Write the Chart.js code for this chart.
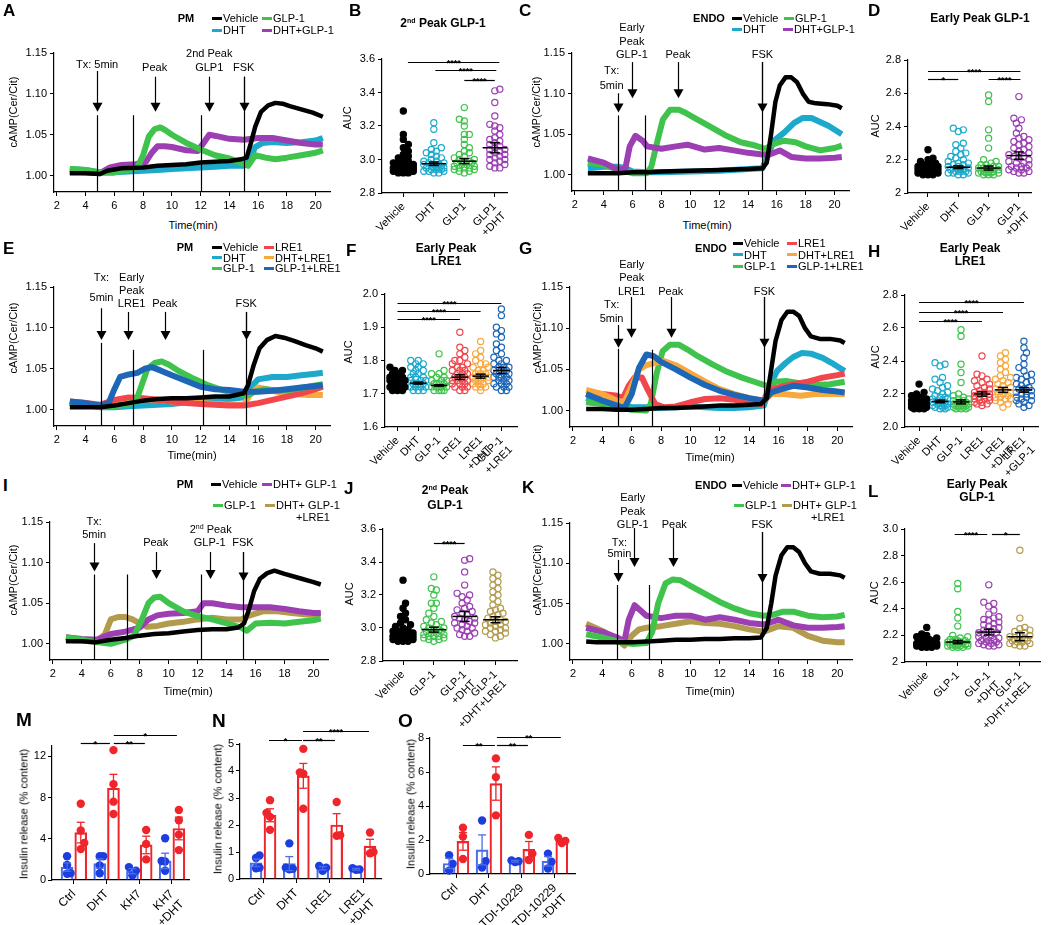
<!DOCTYPE html>
<html><head><meta charset="utf-8">
<script src="https://cdn.jsdelivr.net/npm/chart.js@4.4.1/dist/chart.umd.min.js"></script>
<style>
html,body{margin:0;padding:0;background:#fff;}
#fig{position:relative;width:1050px;height:925px;overflow:hidden;background:#fff;font-family:'Liberation Sans',Arial,Helvetica,sans-serif;color:#000;}
#fig canvas{position:absolute;}
.t{position:absolute;white-space:nowrap;line-height:1;}
.sp{font-size:7px;vertical-align:4px;}
</style></head><body><div id="fig"></div>
<script>
// ================= DATA =================
// time-course traces: [time (min), cAMP(Cer/Cit)]
const A_veh = [[2.9,1.003],[4,1.003],[5,1.002],[5.5,1.006],[6.5,1.009],[8,1.01],[9,1.012],[10,1.013],[11,1.014],[12,1.016],[13,1.017],[14,1.018],[14.8,1.02],[15.2,1.022],[15.5,1.04],[15.8,1.06],[16.2,1.078],[16.7,1.086],[17.2,1.089],[17.7,1.088],[18.2,1.085],[19,1.081],[19.8,1.077],[20.5,1.072]];
const A_dht = [[2.9,1.008],[4,1.007],[5,1.004],[6,1.004],[7,1.005],[8,1.006],[9,1.007],[10,1.008],[11,1.009],[12,1.01],[13,1.011],[14,1.012],[15,1.012],[15.4,1.02],[15.8,1.035],[16.3,1.04],[17,1.041],[18,1.04],[19,1.041],[20,1.043],[20.5,1.046]];
const A_glp = [[2.9,1.008],[4,1.007],[5,1.004],[6,1.004],[7,1.007],[7.6,1.01],[8,1.025],[8.4,1.048],[8.8,1.057],[9.2,1.059],[9.6,1.055],[10,1.05],[11,1.04],[12,1.032],[13,1.025],[14,1.021],[14.8,1.016],[15.3,1.012],[15.8,1.025],[16.5,1.022],[17.2,1.02],[18,1.022],[19,1.025],[20,1.028],[20.5,1.031]];
const A_dg = [[2.9,1.005],[4,1.004],[5,1.003],[5.7,1.01],[6.5,1.013],[7.5,1.014],[8.2,1.017],[8.6,1.028],[9,1.036],[9.5,1.036],[10,1.035],[11,1.031],[11.8,1.03],[12.2,1.04],[12.6,1.05],[13.2,1.048],[14,1.045],[15,1.044],[16,1.046],[17,1.046],[18,1.043],[19,1.04],[20,1.038],[20.5,1.038]];

const C_veh = [[2.9,1.002],[4,1.002],[5,1.002],[6,1.003],[7,1.003],[8,1.004],[10,1.005],[12,1.006],[14,1.007],[15,1.008],[15.3,1.015],[15.6,1.05],[15.9,1.09],[16.2,1.11],[16.6,1.12],[17,1.12],[17.4,1.114],[17.8,1.1],[18.2,1.09],[18.7,1.088],[19.5,1.087],[20.2,1.085],[20.5,1.082]];
const C_dht = [[2.9,1.008],[4,1.01],[5,1.01],[5.5,1.008],[6,1.004],[7,1.003],[8,1.003],[10,1.004],[12,1.005],[14,1.007],[15,1.008],[15.4,1.025],[15.8,1.042],[16.5,1.052],[17.2,1.064],[17.8,1.07],[18.4,1.07],[19,1.065],[19.6,1.06],[20.5,1.05]];
const C_glp = [[2.9,1.015],[4,1.012],[5,1.006],[6,1.002],[7,1.002],[7.3,1.01],[7.7,1.04],[8.1,1.068],[8.6,1.08],[9.2,1.08],[9.7,1.076],[10.5,1.068],[11.5,1.058],[12.5,1.048],[13.5,1.04],[14.5,1.036],[15.2,1.032],[15.8,1.038],[16.5,1.042],[17.3,1.04],[18,1.035],[19,1.03],[20,1.033],[20.5,1.036]];
const C_dg = [[2.9,1.02],[4,1.015],[5,1.006],[5.5,1.008],[5.8,1.035],[6.2,1.048],[6.7,1.042],[7,1.035],[8,1.032],[9,1.035],[9.8,1.037],[11,1.031],[12,1.033],[13,1.03],[14,1.027],[15,1.025],[15.5,1.025],[16.2,1.03],[17,1.022],[18,1.02],[19,1.02],[20,1.021],[20.5,1.022]];

const E_veh = [[2.9,1.003],[4,1.003],[5,1.003],[6,1.005],[7,1.008],[8,1.011],[9,1.013],[10,1.014],[11,1.014],[12,1.015],[13,1.016],[14,1.016],[15,1.02],[15.3,1.03],[15.7,1.055],[16.1,1.075],[16.6,1.085],[17.2,1.09],[17.8,1.088],[18.5,1.084],[19.3,1.079],[20,1.075],[20.5,1.071]];
const E_dht = [[2.9,1.009],[4,1.007],[5,1.003],[6,1.003],[7,1.004],[8,1.005],[9,1.006],[10,1.007],[11,1.009],[12,1.01],[13,1.012],[14,1.013],[15,1.015],[15.5,1.028],[16,1.037],[17,1.04],[18,1.04],[19,1.042],[20,1.044],[20.5,1.045]];
const E_glp = [[2.9,1.008],[4,1.006],[5,1.004],[6,1.004],[7,1.007],[7.5,1.01],[7.9,1.03],[8.3,1.05],[8.8,1.057],[9.3,1.059],[9.8,1.055],[10.5,1.047],[11.5,1.038],[12.5,1.03],[13.5,1.024],[14.5,1.02],[15.2,1.017],[15.8,1.022],[16.5,1.025],[17.5,1.023],[18.5,1.025],[19.5,1.028],[20.5,1.031]];
const E_lre = [[2.9,1.01],[4,1.008],[5,1.006],[6,1.012],[7,1.015],[8,1.014],[9,1.012],[10,1.01],[11,1.008],[12,1.007],[13,1.006],[14,1.005],[15,1.005],[16,1.008],[17,1.012],[18,1.016],[19,1.02],[20,1.025],[20.5,1.028]];
const E_dl = [[2.9,1.008],[4,1.006],[5,1.003],[6,1.008],[7,1.011],[8,1.013],[9,1.012],[10,1.01],[11,1.009],[12,1.008],[13,1.007],[14,1.006],[15,1.006],[15.5,1.02],[16,1.027],[16.6,1.025],[17.5,1.021],[18.5,1.019],[19.5,1.018],[20.5,1.018]];
const E_gl = [[2.9,1.01],[4,1.008],[5,1.005],[5.6,1.008],[6,1.025],[6.4,1.04],[7,1.043],[7.6,1.045],[8.1,1.05],[8.6,1.052],[9.2,1.048],[10,1.042],[11,1.035],[12,1.028],[13,1.025],[14,1.024],[15,1.022],[16,1.022],[17,1.023],[18,1.025],[19,1.027],[20,1.029],[20.5,1.03]];

const G_veh = [[2.9,1.002],[4,1.002],[5,1.001],[6,1.001],[7,1.002],[8,1.003],[9,1.003],[10,1.004],[11,1.005],[12,1.006],[13,1.006],[14,1.007],[14.8,1.008],[15.2,1.015],[15.5,1.05],[15.8,1.085],[16.2,1.11],[16.6,1.12],[17,1.12],[17.4,1.115],[17.8,1.1],[18.2,1.09],[18.8,1.087],[19.5,1.087],[20.2,1.085],[20.5,1.082]];
const G_dht = [[2.9,1.015],[4,1.01],[5,1.008],[5.5,1.006],[6,1.004],[7,1.004],[8,1.003],[9,1.004],[10,1.005],[11,1.004],[12,1.003],[13,1.003],[14,1.004],[15,1.006],[15.4,1.03],[15.9,1.048],[16.5,1.058],[17,1.065],[17.6,1.07],[18.2,1.069],[19,1.064],[19.6,1.058],[20.5,1.048]];
const G_glp = [[2.9,1.01],[4,1.008],[5,1.005],[6,1.001],[7,1.0],[7.3,1.008],[7.7,1.045],[8.1,1.072],[8.6,1.08],[9.2,1.08],[9.8,1.074],[10.5,1.066],[11.5,1.056],[12.5,1.047],[13.5,1.04],[14.5,1.034],[15.2,1.03],[15.8,1.035],[16.5,1.036],[17.5,1.033],[18.5,1.031],[19.5,1.032],[20.5,1.035]];
const G_lre = [[2.9,1.022],[4,1.02],[5,1.018],[5.4,1.015],[5.8,1.03],[6.2,1.04],[6.7,1.04],[7.1,1.025],[7.6,1.008],[8.2,1.004],[9,1.005],[10,1.01],[11,1.014],[12,1.015],[13,1.013],[14,1.01],[14.9,1.008],[15.3,1.025],[16,1.028],[17,1.032],[18,1.035],[19,1.04],[20,1.043],[20.5,1.045]];
const G_dl = [[2.9,1.025],[4,1.02],[5,1.012],[5.5,1.01],[6,1.03],[6.5,1.05],[7,1.055],[7.6,1.058],[8.2,1.06],[9,1.055],[10,1.045],[11,1.035],[12,1.026],[13,1.02],[14,1.015],[15,1.012],[15.5,1.02],[16.3,1.02],[17.5,1.018],[18.5,1.02],[19.5,1.02],[20.5,1.02]];
const G_gl = [[2.9,1.02],[4,1.012],[5,1.006],[5.5,1.003],[6,1.02],[6.5,1.052],[7,1.068],[7.5,1.066],[8,1.059],[9,1.05],[10,1.04],[11,1.031],[12,1.024],[13,1.019],[14,1.015],[15,1.012],[15.5,1.022],[16.2,1.026],[17,1.03],[18,1.028],[19,1.025],[20,1.023],[20.5,1.022]];

const I_veh = [[2.9,1.003],[4,1.003],[5,1.002],[6,1.005],[7,1.007],[8,1.01],[9,1.012],[10,1.013],[11,1.015],[12,1.017],[13,1.018],[14,1.018],[14.8,1.02],[15.2,1.025],[15.5,1.04],[15.9,1.065],[16.3,1.08],[16.8,1.087],[17.3,1.09],[18,1.086],[19,1.081],[20,1.076],[20.5,1.073]];
const I_glp = [[2.9,1.008],[4,1.005],[5,1.002],[6,1.0],[7,1.005],[7.6,1.01],[8.1,1.028],[8.6,1.05],[9,1.057],[9.4,1.058],[10,1.05],[11,1.04],[12,1.034],[13,1.03],[14,1.025],[15,1.02],[15.4,1.016],[16,1.025],[17,1.026],[18,1.025],[19,1.027],[20,1.029],[20.5,1.031]];
const I_dg = [[2.9,1.008],[4,1.006],[5,1.005],[6,1.012],[7,1.015],[8,1.02],[8.6,1.03],[9.2,1.035],[10,1.037],[11,1.038],[12,1.04],[12.4,1.05],[13,1.05],[14,1.047],[15,1.045],[16,1.045],[17,1.045],[18,1.043],[19,1.04],[20,1.038],[20.5,1.038]];
const I_dgl = [[2.9,1.005],[4,1.004],[5,1.002],[5.6,1.012],[6,1.03],[6.5,1.033],[7,1.033],[7.5,1.03],[8,1.025],[8.5,1.021],[9.2,1.022],[10,1.025],[11,1.027],[12,1.03],[13,1.032],[14,1.03],[15,1.03],[15.6,1.035],[16.5,1.04],[17.5,1.04],[18.5,1.038],[19.5,1.036],[20.5,1.035]];

const K_veh = [[2.9,1.003],[3.6,1.002],[6,1.002],[7,1.003],[8,1.004],[9,1.005],[10,1.005],[11,1.006],[12,1.006],[13,1.007],[14,1.007],[14.8,1.008],[15.2,1.02],[15.5,1.05],[15.8,1.085],[16.2,1.11],[16.6,1.12],[17,1.12],[17.4,1.114],[17.8,1.1],[18.2,1.09],[18.8,1.087],[19.5,1.087],[20.2,1.085],[20.5,1.082]];
const K_glp = [[2.9,1.012],[4,1.008],[5,1.003],[6,1.0],[7,1.001],[7.4,1.015],[7.8,1.05],[8.3,1.075],[8.8,1.08],[9.3,1.079],[10,1.072],[11,1.062],[12,1.052],[13,1.044],[14,1.038],[15,1.035],[15.6,1.036],[16.3,1.04],[17,1.04],[18,1.035],[19,1.033],[20,1.034],[20.5,1.036]];
const K_dg = [[2.9,1.02],[4,1.015],[5,1.008],[5.5,1.003],[5.8,1.03],[6.2,1.048],[6.7,1.04],[7,1.035],[8,1.032],[9,1.035],[10,1.035],[11,1.03],[12,1.033],[13,1.03],[14,1.026],[15,1.024],[16,1.03],[17,1.023],[18,1.02],[19,1.02],[20,1.021],[20.5,1.022]];
const K_dgl = [[2.9,1.025],[4,1.016],[5,1.006],[5.5,0.998],[6,1.01],[6.5,1.018],[7,1.02],[8,1.022],[9,1.025],[10,1.028],[11,1.026],[12,1.025],[13,1.022],[14,1.018],[15,1.015],[16,1.022],[17,1.02],[18,1.01],[19,1.004],[20,1.002],[20.5,1.002]];

const TS_XT = [2,4,6,8,10,12,14,16,18,20];
const TS_YT = [1.00,1.05,1.10,1.15];

// AUC dot plots
const B_cats = ['Vehicle','DHT','GLP1','GLP1\n+DHT'];
const B_veh = [2.92,2.92,2.92,2.93,2.93,2.93,2.93,2.93,2.94,2.94,2.94,2.94,2.94,2.95,2.95,2.95,2.95,2.96,2.96,2.96,2.97,2.97,2.98,2.98,2.99,3.00,3.01,3.02,3.03,3.05,3.07,3.09,3.12,3.15,3.29];
const B_dht = [2.92,2.92,2.93,2.93,2.93,2.94,2.94,2.94,2.95,2.95,2.95,2.95,2.96,2.96,2.96,2.97,2.97,2.97,2.98,2.98,2.99,2.99,3.00,3.01,3.02,3.03,3.04,3.05,3.06,3.07,3.10,3.18,3.22];
const B_glp = [2.92,2.93,2.93,2.94,2.94,2.95,2.95,2.95,2.96,2.96,2.97,2.97,2.98,2.98,2.99,2.99,3.00,3.00,3.01,3.02,3.03,3.04,3.05,3.07,3.09,3.12,3.15,3.15,3.20,3.23,3.24,3.31];
const B_dg = [2.95,2.95,2.96,2.97,2.98,2.99,3.00,3.00,3.01,3.02,3.03,3.03,3.04,3.05,3.06,3.06,3.07,3.08,3.09,3.10,3.11,3.12,3.13,3.15,3.17,3.19,3.20,3.21,3.26,3.34,3.41,3.42];
const B_mean = [2.97,2.975,2.99,3.07];
const B_sem = [0.004,0.01,0.015,0.03];
const B_sig = [[0.15,3.15,3.582,'****'],[1.05,3.05,3.532,'****'],[2.0,3.0,3.476,'****']];
const B_yt = [2.8,3.0,3.2,3.4,3.6];

const D_veh = [2.11,2.11,2.11,2.12,2.12,2.12,2.12,2.13,2.13,2.13,2.13,2.13,2.14,2.14,2.14,2.14,2.15,2.15,2.15,2.16,2.16,2.17,2.17,2.18,2.19,2.20,2.21,2.26];
const D_dht = [2.11,2.11,2.12,2.12,2.12,2.13,2.13,2.13,2.14,2.14,2.14,2.15,2.15,2.15,2.16,2.16,2.17,2.17,2.18,2.18,2.19,2.20,2.21,2.22,2.23,2.24,2.25,2.27,2.29,2.30,2.37,2.38,2.39];
const D_glp = [2.11,2.11,2.11,2.12,2.12,2.12,2.12,2.13,2.13,2.13,2.13,2.14,2.14,2.14,2.15,2.15,2.15,2.16,2.16,2.17,2.17,2.18,2.19,2.20,2.27,2.33,2.38,2.55,2.59];
const D_dg = [2.12,2.12,2.13,2.13,2.14,2.14,2.15,2.15,2.16,2.16,2.17,2.18,2.18,2.19,2.20,2.21,2.22,2.22,2.23,2.24,2.25,2.26,2.27,2.28,2.29,2.30,2.31,2.32,2.33,2.34,2.36,2.39,2.42,2.44,2.45,2.58];
const D_mean = [2.135,2.155,2.15,2.225];
const D_sem = [0.004,0.008,0.012,0.022];
const D_sig = [[0,1,2.685,'*'],[0,3.05,2.736,'****'],[2.0,3.05,2.685,'****']];
const D_yt = [2.0,2.2,2.4,2.6,2.8];
const D_yl = ['2','2.2','2.4','2.6','2.8'];

const F_cats = ['Vehicle','DHT','GLP-1','LRE1','LRE1\n+DHT','GLP-1\n+LRE1'];
const F_veh = [1.71,1.71,1.71,1.72,1.72,1.72,1.72,1.72,1.72,1.73,1.73,1.73,1.73,1.73,1.74,1.74,1.74,1.74,1.75,1.75,1.75,1.76,1.76,1.77,1.77,1.78];
const F_dht = [1.71,1.71,1.71,1.72,1.72,1.72,1.72,1.73,1.73,1.73,1.73,1.74,1.74,1.74,1.75,1.75,1.75,1.76,1.76,1.77,1.77,1.78,1.78,1.79,1.79,1.80,1.80];
const F_glp = [1.71,1.71,1.71,1.71,1.72,1.72,1.72,1.72,1.72,1.73,1.73,1.73,1.73,1.74,1.74,1.74,1.75,1.75,1.76,1.76,1.77,1.82];
const F_lre = [1.71,1.71,1.72,1.72,1.72,1.73,1.73,1.73,1.74,1.74,1.74,1.74,1.75,1.75,1.75,1.76,1.76,1.76,1.77,1.77,1.77,1.78,1.78,1.79,1.79,1.80,1.80,1.81,1.82,1.83,1.84,1.885];
const F_dl = [1.71,1.72,1.72,1.72,1.73,1.73,1.73,1.74,1.74,1.74,1.74,1.75,1.75,1.75,1.75,1.76,1.76,1.76,1.77,1.77,1.78,1.78,1.79,1.79,1.80,1.81,1.82,1.83,1.857];
const F_gl = [1.71,1.71,1.72,1.72,1.72,1.73,1.73,1.73,1.74,1.74,1.74,1.75,1.75,1.75,1.75,1.76,1.76,1.76,1.77,1.77,1.77,1.78,1.78,1.78,1.79,1.79,1.80,1.80,1.81,1.82,1.83,1.84,1.85,1.87,1.88,1.89,1.90,1.935,1.955];
const F_mean = [1.727,1.732,1.725,1.75,1.753,1.77];
const F_sem = [0.002,0.003,0.002,0.007,0.006,0.009];
const F_sig = [[0,3,1.9236,'****'],[0,4,1.9497,'****'],[0,5,1.9739,'****']];
const F_yt = [1.6,1.7,1.8,1.9,2.0];

const H_cats = ['Vehicle','DHT','GLP-1','LRE1','LRE1\n+DHT','LRE1\n+GLP-1'];
const H_lre = [2.13,2.14,2.14,2.15,2.15,2.16,2.16,2.17,2.17,2.18,2.18,2.19,2.19,2.20,2.20,2.21,2.21,2.22,2.23,2.24,2.25,2.26,2.27,2.28,2.29,2.31,2.32,2.43];
const H_dl = [2.12,2.14,2.15,2.16,2.17,2.17,2.18,2.18,2.19,2.20,2.20,2.21,2.22,2.22,2.23,2.24,2.25,2.26,2.27,2.28,2.29,2.30,2.31,2.33,2.35,2.37,2.39,2.41,2.43,2.45];
const H_gl = [2.12,2.13,2.14,2.15,2.16,2.16,2.17,2.18,2.18,2.19,2.20,2.20,2.21,2.22,2.23,2.23,2.24,2.25,2.26,2.27,2.28,2.29,2.30,2.31,2.32,2.34,2.36,2.38,2.42,2.45,2.48,2.52];
const H_mean = [2.135,2.155,2.152,2.2,2.225,2.225];
const H_sem = [0.004,0.008,0.012,0.013,0.015,0.014];
const H_sig = [[0,3,2.642,'****'],[0,4,2.695,'****'],[0,5,2.755,'****']];
const H_yt = [2.0,2.2,2.4,2.6,2.8];

const J_cats = ['Vehicle','GLP-1','GLP-1\n+DHT','GLP-1\n+DHT+LRE1'];
const J_dgl = [2.94,2.95,2.96,2.97,2.98,2.98,2.99,3.00,3.00,3.01,3.02,3.02,3.03,3.04,3.04,3.05,3.06,3.07,3.08,3.09,3.10,3.11,3.12,3.14,3.16,3.18,3.20,3.22,3.24,3.26,3.28,3.30,3.32,3.34];
const J_mean = [2.97,2.99,3.07,3.05];
const J_sem = [0.004,0.015,0.03,0.018];
const J_sig = [[1,2,3.515,'****']];

const L_dgl = [2.12,2.12,2.13,2.14,2.14,2.15,2.15,2.16,2.16,2.17,2.17,2.18,2.19,2.20,2.21,2.22,2.23,2.24,2.25,2.26,2.33,2.84];
const L_mean = [2.135,2.15,2.225,2.19];
const L_sem = [0.004,0.012,0.022,0.03];
const L_sig = [[0.9,1.95,2.965,'****'],[2.1,3.0,2.965,'*']];
const L_yt = [2.0,2.2,2.4,2.6,2.8,3.0];
const L_yl = ['2','2.2','2.4','2.6','2.8','3.0'];

// insulin release bars
const M_cats = ['Ctrl','DHT','KH7','KH7\n+DHT'];
const M_blueMean = [1.25,1.6,0.85,1.85], M_blueSem = [0.4,0.45,0.25,0.75];
const M_redMean = [4.6,8.9,3.4,5.0], M_redSem = [1.0,1.35,0.85,1.1];
const M_blueDots = [[2.3,1.45,0.65,0.6],[2.3,2.3,1.4,0.65],[1.25,0.9,0.45],[4.05,1.85,1.8,0.9]];
const M_redDots = [[7.4,4.8,3.6,3.0],[12.6,9.3,7.6,6.4],[4.85,3.5,2.0],[6.8,5.8,4.4,2.9]];
const M_sig = [[0.21,1.1,13.3,'*'],[1.22,2.17,13.3,'**'],[1.22,3.15,14.1,'*']];
const M_yt = [0,4,8,12];

const N_cats = ['Ctrl','DHT','LRE1','LRE1\n+DHT'];
const N_blueMean = [0.6,0.57,0.4,0.36], N_blueSem = [0.14,0.26,0.06,0.03];
const N_redMean = [2.36,3.82,2.0,1.22], N_redSem = [0.24,0.46,0.42,0.25];
const N_blueDots = [[0.87,0.78,0.42,0.4],[1.32,0.42,0.38,0.36],[0.48,0.42,0.3],[0.4,0.35,0.34]];
const N_redDots = [[2.92,2.45,2.3,1.82],[4.82,3.95,3.9,2.6],[2.85,1.62,1.6],[1.72,1.0,0.95]];
const N_sig = [[0.18,1.17,5.13,'*'],[1.2,2.16,5.13,'**'],[1.2,3.18,5.47,'****']];
const N_yt = [0,1,2,3,4,5];

const O_cats = ['Ctrl','DHT','TDI-10229','TDI-10229\n+DHT'];
const O_blueMean = [0.62,1.42,0.75,0.75], O_blueSem = [0.3,0.88,0.05,0.28];
const O_redMean = [1.92,5.32,1.45,1.95], O_redSem = [0.52,0.98,0.46,0.1];
const O_blueDots = [[1.1,0.6,0.2],[3.15,0.75,0.38],[0.8,0.75,0.7],[1.2,0.72,0.32]];
const O_redDots = [[2.72,2.2,0.88],[6.8,5.7,3.45],[2.3,1.2,0.82],[2.12,1.95,1.82]];
const O_sig = [[0.21,1.18,7.6,'**'],[1.24,2.18,7.6,'**'],[1.24,3.18,8.05,'**']];
const O_yt = [0,2,4,6,8];

// annotations (time, value)
const A_vl = [[4.8,1.074],[7.3,1.074],[12.05,1.074],[15.0,1.121]];
const A_ar = [[4.8,1.128,1.078],[8.8,1.121,1.078],[12.6,1.121,1.078],[15.0,1.121,1.078]];
const A_tx = [[4.8,1.1354,'Tx: 5min'],[8.8,1.1317,'Peak'],[12.6,1.1488,'2nd Peak'],[12.6,1.1317,'GLP1'],[15.0,1.1317,'FSK']];
const C_vl = [[4.98,1.0731],[6.85,1.0731],[15.0,1.1388]];
const C_ar = [[4.98,1.1004,1.0768],[5.97,1.1388,1.0942],[9.15,1.1388,1.0942],[15.0,1.1388,1.0768]];
const C_tx = [[4.55,1.1277,'Tx:'],[4.55,1.110,'5min'],[5.95,1.181,'Early'],[5.95,1.1636,'Peak'],[5.95,1.1475,'GLP-1'],[9.15,1.1475,'Peak'],[15.0,1.1475,'FSK']];
const E_vl = [[5.1,1.0817],[7.3,1.0731],[12.16,1.0731],[15.17,1.1195]];
const E_ar = [[5.1,1.124,1.0853],[6.95,1.1195,1.0853],[9.5,1.1195,1.0853],[15.17,1.1195,1.0853]];
const E_tx = [[5.1,1.1606,'Tx:'],[5.1,1.1362,'5min'],[7.2,1.1606,'Early'],[7.2,1.1451,'Peak'],[7.2,1.1289,'LRE1'],[9.5,1.1289,'Peak'],[15.17,1.1289,'FSK']];
const G_vl = [[5.05,1.075],[7.36,1.0738],[15.04,1.1379]];
const G_ar = [[5.05,1.104,1.0762],[5.95,1.1379,1.0883],[8.66,1.1379,1.0883],[15.04,1.1379,1.0762]];
const G_tx = [[4.63,1.1282,'Tx:'],[4.63,1.1113,'5min'],[6.0,1.1766,'Early'],[6.0,1.1605,'Peak'],[6.0,1.1444,'LRE1'],[8.66,1.1444,'Peak'],[15.04,1.1444,'FSK']];
const I_vl = [[4.85,1.0853],[7.15,1.0853],[12.2,1.0853],[15.12,1.113]];
const I_ar = [[4.85,1.124,1.0889],[9.1,1.113,1.0799],[12.83,1.113,1.0799],[15.12,1.113,1.0766]];
const I_tx = [[4.85,1.1496,'Tx:'],[4.85,1.134,'5min'],[9.1,1.1238,'Peak'],[12.9,1.1402,'2^{nd} Peak'],[12.83,1.1238,'GLP-1'],[15.12,1.1238,'FSK']];
const K_vl = [[5.0,1.0731],[7.2,1.0731],[14.88,1.1388]];
const K_ar = [[6.18,1.1438,1.0955],[5.05,1.1042,1.0769],[8.8,1.1438,1.0955],[14.88,1.1388,1.0757]];
const K_tx = [[6.07,1.1806,'Early'],[6.07,1.164,'Peak'],[6.07,1.1475,'GLP-1'],[5.16,1.1248,'Tx:'],[5.16,1.111,'5min'],[8.9,1.1475,'Peak'],[14.88,1.1475,'FSK']];

// ================= STYLE / LAYOUT =================
const FONT = "'Liberation Sans', Arial, Helvetica, sans-serif";
const C_VEH='#000000', C_DHT='#1ca9cb', C_GLP='#3fc34d', C_DG='#9b3fb3', C_LRE='#f0464c', C_DL='#f8a83d', C_GL='#1e66b6', C_DGL='#b39b4e';
const C_BLUE='#1c3ee0', C_BLUEBAR='#4a6de8', C_RED='#ef252b';
const fig = document.getElementById('fig');
Chart.defaults.font.family = FONT;
Chart.defaults.color = '#000';

function seg(ctx,x0,y0,x1,y1){ctx.beginPath();ctx.moveTo(x0,y0);ctx.lineTo(x1,y1);ctx.stroke();}
function rich(ctx,s,x,y,size){
  const parts=s.split(/\^\{|\}/);
  const fN=size+'px '+FONT, fS=Math.round(size*0.65)+'px '+FONT;
  let w=0; parts.forEach((p,i)=>{ctx.font=i%2?fS:fN; w+=ctx.measureText(p).width;});
  let cx=x-w/2; ctx.textAlign='left'; ctx.textBaseline='middle';
  parts.forEach((p,i)=>{ctx.font=i%2?fS:fN; ctx.fillText(p,cx,i%2?y-size*0.3:y); cx+=ctx.measureText(p).width;});
}
const annPlugin = {
  id:'ann',
  afterDatasetsDraw(chart){
    const a=chart.canvas._ann; if(!a) return;
    const ctx=chart.ctx, xs=chart.scales.x, ys=chart.scales.y, ca=chart.chartArea;
    const X=v=>xs.getPixelForValue(v), Y=v=>ys.getPixelForValue(v);
    ctx.save(); ctx.strokeStyle='#000'; ctx.fillStyle='#000'; ctx.lineWidth=1.2;
    (a.vl||[]).forEach(([x,y0])=>{const px=Math.round(X(x))+0.5; seg(ctx,px,Y(y0),px,ca.bottom);});
    (a.ar||[]).forEach(([x,y0,y1])=>{const px=Math.round(X(x))+0.5, t=Y(y1);
      seg(ctx,px,Y(y0),px,t-8);
      ctx.beginPath(); ctx.moveTo(px-5,t-9); ctx.lineTo(px+5,t-9); ctx.lineTo(px,t); ctx.closePath(); ctx.fill();});
    (a.tx||[]).forEach(([x,y,s])=>rich(ctx,s,X(x),Y(y),11));
    if(a.means) a.means.forEach((m,i)=>{
      const cx=X(i), hw=X(i+0.4)-cx, py=Y(m), s=a.sems[i];
      ctx.lineWidth=1.5; ctx.strokeStyle='#000';
      seg(ctx,cx-hw,py,cx+hw,py); seg(ctx,cx,Y(m-s),cx,Y(m+s));
      seg(ctx,cx-5,Y(m+s),cx+5,Y(m+s)); seg(ctx,cx-5,Y(m-s),cx+5,Y(m-s));
    });
    if(a.bars) a.bars.forEach(b=>b.m.forEach((m,i)=>{
      ctx.strokeStyle=b.c; ctx.lineWidth=1.3;
      const cx=X(i+b.x), s=b.s[i];
      seg(ctx,cx,Y(m-s),cx,Y(m+s)); seg(ctx,cx-4,Y(m+s),cx+4,Y(m+s)); seg(ctx,cx-4,Y(m-s),cx+4,Y(m-s));
    }));
    ctx.strokeStyle='#000'; ctx.lineWidth=1.2;
    (a.sig||[]).forEach(([x0,x1,y,l])=>{const py=Math.round(Y(y))+0.5;
      seg(ctx,X(x0),py,X(x1),py);
      ctx.font='bold 9px '+FONT; ctx.textAlign='center'; ctx.textBaseline='alphabetic';
      ctx.fillText(l,(X(x0)+X(x1))/2,py+3);});
    ctx.restore();
  }
};
function axis(min,max,ticks,labels,o={}){
  return {type:'linear',min,max,offset:false,
    afterBuildTicks:s=>{s.ticks=ticks.map(v=>({value:v}));},
    grid:{display:true,drawOnChartArea:false,drawTicks:true,tickLength:4,color:'#000',lineWidth:1,offset:false},
    border:{display:true,color:'#000',width:1.2},
    ticks:{autoSkip:false,color:'#000',font:{family:FONT,size:o.fs||11},padding:o.pad===undefined?3:o.pad,
      maxRotation:o.rot||0,minRotation:o.rot||0,callback:(v,i)=>labels[i]}};
}
function mkChart(box,area,cfg,ann){
  const cv=document.createElement('canvas');
  cv.width=box.w; cv.height=box.h;
  cv.style.left=box.x+'px'; cv.style.top=box.y+'px'; cv.style.width=box.w+'px'; cv.style.height=box.h+'px';
  fig.appendChild(cv); cv._ann=ann;
  const Wy=area.l-box.x, Hx=box.y+box.h-area.b, o=cfg.options;
  o.responsive=false; o.maintainAspectRatio=false; o.animation=false; o.devicePixelRatio=1; o.events=[];
  o.layout={autoPadding:false,padding:{left:0,top:area.t-box.y,right:box.x+box.w-area.r,bottom:0}};
  o.scales.x.afterFit=s=>{s.height=Hx;}; o.scales.y.afterFit=s=>{s.width=Wy;};
  o.plugins={legend:{display:false},tooltip:{enabled:false}};
  cfg.plugins=[annPlugin];
  return new Chart(cv.getContext('2d'),cfg);
}
function swarm(vals,pyu,pxu,dmin,maxPx){
  const idx=vals.map((v,i)=>i).sort((a,b)=>vals[a]-vals[b]);
  const placed=[], off=new Array(vals.length).fill(0), step=dmin/2, nK=Math.floor(maxPx/step);
  idx.forEach((i,n)=>{
    const y=vals[i]*pyu, near=placed.filter(p=>Math.abs(p.y-y)<dmin);
    let best=0,bestD=-1;
    outer: for(let k=0;k<=nK;k++){
      const cs=k===0?[0]:(n%2?[k*step,-k*step]:[-k*step,k*step]);
      for(const c of cs){
        let md=Infinity; for(const p of near){const d=Math.hypot(p.x-c,p.y-y); if(d<md) md=d;}
        if(md>=dmin){best=c;break outer;}
        if(md>bestD){bestD=md;best=c;}
      }
    }
    placed.push({x:best,y}); off[i]=best/pxu;
  });
  return off;
}
function tsPanel(box,area,series,ann){
  const datasets=series.map(s=>({data:s[0].map(p=>({x:p[0],y:p[1]})),borderColor:s[1],backgroundColor:s[1],borderWidth:s[1]===C_VEH?4.5:6,pointRadius:0,tension:0,order:s[2],fill:false,borderJoinStyle:'round'}));
  return mkChart(box,area,{type:'line',data:{datasets},options:{scales:{
    x:axis(1.8,21,TS_XT,TS_XT.map(String)), y:axis(0.98,1.15,TS_YT,TS_YT.map(v=>v.toFixed(2)))}}},ann);
}
function dotPanel(box,area,o){
  const pyu=(area.b-area.t)/(o.ymax-o.ymin), pxu=(area.r-area.l)/(o.xmax-o.xmin);
  const datasets=o.groups.map((g,i)=>{
    const off=swarm(g,pyu,pxu,5,o.mw);
    return {type:'scatter',data:g.map((v,j)=>({x:i+off[j],y:v})),pointRadius:3.1,pointBorderWidth:1.2,
      pointBorderColor:o.colors[i],pointBackgroundColor:i===0?o.colors[i]:'rgba(0,0,0,0)',showLine:false,clip:false};
  });
  return mkChart(box,area,{type:'scatter',data:{datasets},options:{scales:{
    x:axis(o.xmin,o.xmax,o.cats.map((c,i)=>i),o.cats.map(c=>c.split('\n')),{rot:45}),
    y:axis(o.ymin,o.ymax,o.yt,o.yl)}}},{means:o.means,sems:o.sems,sig:o.sig});
}
function barPanel(box,area,o){
  const pyu=(area.b-area.t)/o.ymax, pxu=(area.r-area.l)/(o.xmax-o.xmin);
  const bd=[], rd=[];
  o.bd.forEach((g,i)=>{const off=swarm(g,pyu,pxu,7,5); g.forEach((v,j)=>bd.push({x:i-0.21+off[j],y:v}));});
  o.rd.forEach((g,i)=>{const off=swarm(g,pyu,pxu,7,5); g.forEach((v,j)=>rd.push({x:i+0.21+off[j],y:v}));});
  const datasets=[
    {type:'bar',data:o.bm.map((m,i)=>({x:i-0.21,y:m})),borderColor:C_BLUEBAR,backgroundColor:'rgba(255,255,255,0)',borderWidth:1.5,barThickness:12,grouped:false,order:2},
    {type:'bar',data:o.rm.map((m,i)=>({x:i+0.21,y:m})),borderColor:C_RED,backgroundColor:'rgba(255,255,255,0)',borderWidth:1.5,barThickness:12,grouped:false,order:2},
    {type:'scatter',data:bd,pointRadius:4.2,pointBackgroundColor:C_BLUE,pointBorderColor:C_BLUE,pointBorderWidth:0,showLine:false,order:0,clip:false},
    {type:'scatter',data:rd,pointRadius:4.2,pointBackgroundColor:C_RED,pointBorderColor:C_RED,pointBorderWidth:0,showLine:false,order:0,clip:false}];
  return mkChart(box,area,{type:'bar',data:{datasets},options:{scales:{
    x:axis(o.xmin,o.xmax,[0,1,2,3],o.cats.map(c=>c.split('\n')),{rot:45,fs:12}),
    y:axis(0,o.ymax,o.yt,o.yt.map(String),{fs:11,pad:2})}}},
    {bars:[{x:-0.21,m:o.bm,s:o.bs,c:C_BLUEBAR},{x:0.21,m:o.rm,s:o.rs,c:C_RED}],sig:o.sig});
}

// ---------- time courses
tsPanel({x:0,y:15,w:345,h:200},{l:54,t:53,r:330,b:192},[[A_veh,C_VEH,0],[A_glp,C_GLP,1],[A_dg,C_DG,2],[A_dht,C_DHT,3]],{vl:A_vl,ar:A_ar,tx:A_tx});
tsPanel({x:515,y:15,w:350,h:200},{l:572,t:53,r:849,b:191},[[C_veh,C_VEH,0],[C_dg,C_DG,1],[C_glp,C_GLP,2],[C_dht,C_DHT,3]],{vl:C_vl,ar:C_ar,tx:C_tx});
tsPanel({x:0,y:255,w:345,h:195},{l:54,t:287,r:330,b:426},[[E_veh,C_VEH,0],[E_gl,C_GL,1],[E_glp,C_GLP,2],[E_lre,C_LRE,3],[E_dl,C_DL,4],[E_dht,C_DHT,5]],{vl:E_vl,ar:E_ar,tx:E_tx});
tsPanel({x:515,y:255,w:350,h:195},{l:570,t:287,r:852,b:427},[[G_veh,C_VEH,0],[G_gl,C_GL,1],[G_dl,C_DL,2],[G_lre,C_LRE,3],[G_glp,C_GLP,4],[G_dht,C_DHT,5]],{vl:G_vl,ar:G_ar,tx:G_tx});
tsPanel({x:0,y:505,w:345,h:190},{l:50,t:522,r:328,b:660},[[I_veh,C_VEH,0],[I_glp,C_GLP,1],[I_dg,C_DG,2],[I_dgl,C_DGL,3]],{vl:I_vl,ar:I_ar,tx:I_tx});
tsPanel({x:515,y:488,w:350,h:205},{l:570,t:523,r:852,b:660},[[K_veh,C_VEH,0],[K_glp,C_GLP,1],[K_dg,C_DG,2],[K_dgl,C_DGL,3]],{vl:K_vl,ar:K_ar,tx:K_tx});

// ---------- AUC dot plots
dotPanel({x:345,y:40,w:180,h:205},{l:382,t:59,r:507,b:193},{cats:B_cats,groups:[B_veh,B_dht,B_glp,B_dg],colors:[C_VEH,C_DHT,C_GLP,C_DG],means:B_mean,sems:B_sem,sig:B_sig,ymin:2.8,ymax:3.6,yt:B_yt,yl:B_yt.map(v=>v.toFixed(1)),xmin:-0.7,xmax:3.4,mw:12});
dotPanel({x:866,y:40,w:184,h:205},{l:908,t:60,r:1031,b:193},{cats:B_cats,groups:[D_veh,D_dht,D_glp,D_dg],colors:[C_VEH,C_DHT,C_GLP,C_DG],means:D_mean,sems:D_sem,sig:D_sig,ymin:2.0,ymax:2.8,yt:D_yt,yl:D_yl,xmin:-0.66,xmax:3.4,mw:12});
dotPanel({x:345,y:280,w:180,h:200},{l:385,t:294,r:517,b:427},{cats:F_cats,groups:[F_veh,F_dht,F_glp,F_lre,F_dl,F_gl],colors:[C_VEH,C_DHT,C_GLP,C_LRE,C_DL,C_GL],means:F_mean,sems:F_sem,sig:F_sig,ymin:1.6,ymax:2.0,yt:F_yt,yl:F_yt.map(v=>v.toFixed(1)),xmin:-0.6,xmax:5.75,mw:8});
dotPanel({x:866,y:280,w:184,h:200},{l:905,t:295,r:1038,b:427},{cats:H_cats,groups:[D_veh,D_dht,D_glp,H_lre,H_dl,H_gl],colors:[C_VEH,C_DHT,C_GLP,C_LRE,C_DL,C_GL],means:H_mean,sems:H_sem,sig:H_sig,ymin:2.0,ymax:2.8,yt:H_yt,yl:H_yt.map(v=>v.toFixed(1)),xmin:-0.67,xmax:5.67,mw:8});
dotPanel({x:345,y:515,w:180,h:215},{l:383,t:529,r:517,b:661},{cats:J_cats,groups:[B_veh,B_glp,B_dg,J_dgl],colors:[C_VEH,C_GLP,C_DG,C_DGL],means:J_mean,sems:J_sem,sig:J_sig,ymin:2.8,ymax:3.6,yt:B_yt,yl:B_yt.map(v=>v.toFixed(1)),xmin:-0.65,xmax:3.7,mw:12});
dotPanel({x:866,y:515,w:184,h:215},{l:905,t:529,r:1040,b:662},{cats:J_cats,groups:[D_veh,D_glp,D_dg,L_dgl],colors:[C_VEH,C_GLP,C_DG,C_DGL],means:L_mean,sems:L_sem,sig:L_sig,ymin:2.0,ymax:3.0,yt:L_yt,yl:L_yl,xmin:-0.7,xmax:3.65,mw:12});

// ---------- insulin bars
barPanel({x:0,y:718,w:200,h:207},{l:52,t:746,r:189,b:880},{cats:M_cats,bm:M_blueMean,bs:M_blueSem,rm:M_redMean,rs:M_redSem,bd:M_blueDots,rd:M_redDots,sig:M_sig,ymax:13,yt:M_yt,xmin:-0.67,xmax:3.52});
barPanel({x:195,y:718,w:195,h:207},{l:240,t:744,r:381,b:879},{cats:N_cats,bm:N_blueMean,bs:N_blueSem,rm:N_redMean,rs:N_redSem,bd:N_blueDots,rd:N_redDots,sig:N_sig,ymax:5,yt:N_yt,xmin:-0.69,xmax:3.54});
barPanel({x:390,y:718,w:200,h:207},{l:430,t:738,r:575,b:874},{cats:O_cats,bm:O_blueMean,bs:O_blueSem,rm:O_redMean,rs:O_redSem,bd:O_blueDots,rd:O_redDots,sig:O_sig,ymax:8,yt:O_yt,xmin:-0.79,xmax:3.61});

// ---------- HTML text
function txt(html,x,y,o={}){
  const d=document.createElement('div'); d.className='t'; d.innerHTML=html;
  d.style.left=x+'px'; d.style.top=y+'px'; d.style.fontSize=(o.fs||11)+'px';
  if(o.b) d.style.fontWeight='bold';
  d.style.transform=o.rot?'translate(-50%,-50%) rotate('+o.rot+'deg)':(o.al==='l'?'translate(0,-50%)':(o.al==='tl'?'none':'translate(-50%,-50%)'));
  fig.appendChild(d);
}
function sw(c,x,y){const d=document.createElement('div'); d.style.cssText='position:absolute;left:'+x+'px;top:'+(y-1.5)+'px;width:10px;height:3px;background:'+c; fig.appendChild(d);}
function leg(c,label,sx,y){sw(c,sx,y); txt(label,sx+11,y,{al:'l'});}

[['A',3,2],['B',349,2],['C',519,2],['D',868,2],['E',3,240],['F',346,242],['G',519,240],['H',868,243],['I',3,477],['J',344,480],['K',522,479],['L',868,483]].forEach(l=>txt(l[0],l[1],l[2],{fs:17,b:true,al:'tl'}));
[['M',16,710],['N',212,711],['O',398,711]].forEach(l=>txt(l[0],l[1],l[2],{fs:19,b:true,al:'tl'}));

// legends
txt('PM',186,18,{b:true}); leg(C_VEH,'Vehicle',212,18); leg(C_GLP,'GLP-1',262,18); leg(C_DHT,'DHT',212,30); leg(C_DG,'DHT+GLP-1',262,30);
txt('ENDO',709,18,{b:true}); leg(C_VEH,'Vehicle',732,18); leg(C_GLP,'GLP-1',784,18); leg(C_DHT,'DHT',732,29); leg(C_DG,'DHT+GLP-1',783,29);
txt('PM',185,247,{b:true}); leg(C_VEH,'Vehicle',212,247); leg(C_DHT,'DHT',212,257.5); leg(C_GLP,'GLP-1',212,268);
leg(C_LRE,'LRE1',264,247); leg(C_DL,'DHT+LRE1',264,257.5); leg(C_GL,'GLP-1+LRE1',264,268);
txt('ENDO',711,248,{b:true}); leg(C_VEH,'Vehicle',733,243); leg(C_DHT,'DHT',733,254.5); leg(C_GLP,'GLP-1',733,266);
leg(C_LRE,'LRE1',787,243); leg(C_DL,'DHT+LRE1',787,254.5); leg(C_GL,'GLP-1+LRE1',787,266);
txt('PM',185,484,{b:true}); leg(C_VEH,'Vehicle',211,484); leg(C_DG,'DHT+ GLP-1',262,484); leg(C_GLP,'GLP-1',213,505); leg(C_DGL,'DHT+ GLP-1',265,505); txt('+LRE1',313,517);
txt('ENDO',711,485,{b:true}); leg(C_VEH,'Vehicle',732,485); leg(C_DG,'DHT+ GLP-1',781,485); leg(C_GLP,'GLP-1',734,505); leg(C_DGL,'DHT+ GLP-1',782,505); txt('+LRE1',828,517);

// panel titles
txt('2<span class="sp">nd</span> Peak GLP-1',443,23,{b:true,fs:12});
txt('Early Peak GLP-1',980,18,{b:true,fs:12});
txt('Early Peak',446,248,{b:true,fs:12}); txt('LRE1',446,261,{b:true,fs:12});
txt('Early Peak',970,248,{b:true,fs:12}); txt('LRE1',970,261,{b:true,fs:12});
txt('2<span class="sp">nd</span> Peak',445,490,{b:true,fs:12}); txt('GLP-1',445,505,{b:true,fs:12});
txt('Early Peak',977,484,{b:true,fs:12}); txt('GLP-1',977,497,{b:true,fs:12});

// axis titles
[[193,225],[707,225],[192,455],[710,457],[188,691],[710,691]].forEach(p=>txt('Time(min)',p[0],p[1]));
[[13,112],[536,112],[13,338],[537,338],[13,580],[537,580]].forEach(p=>txt('cAMP(Cer/Cit)',p[0],p[1],{rot:-90}));
[[347,118],[875,126],[348,352],[875,357],[349,594],[874,593]].forEach(p=>txt('AUC',p[0],p[1],{rot:-90}));
[[24,814],[218,809],[411,804]].forEach(p=>txt('Insulin release (% content)',p[0],p[1],{rot:-90,fs:11}));
</script></body></html>
